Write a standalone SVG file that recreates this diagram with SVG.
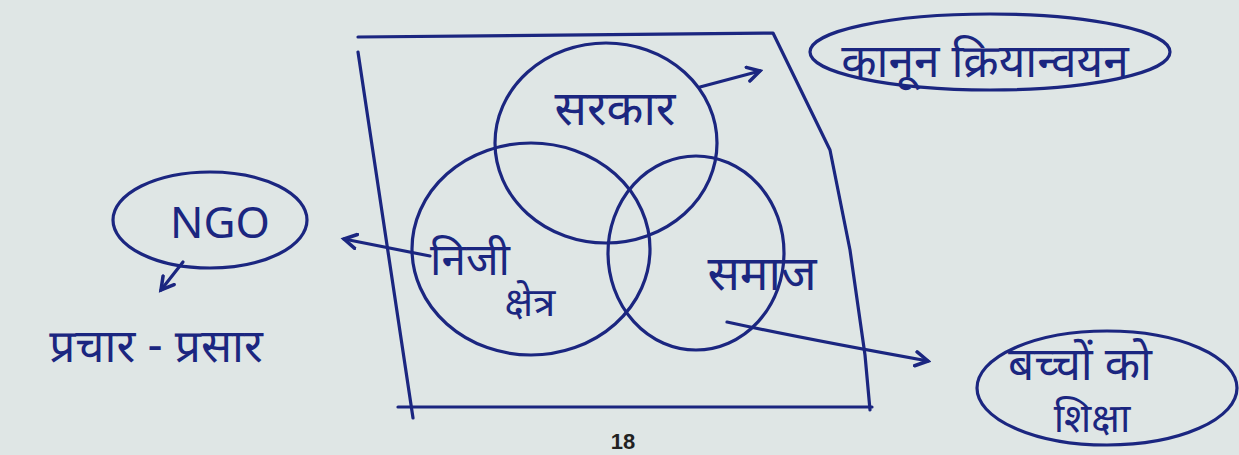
<svg xmlns="http://www.w3.org/2000/svg" width="1239" height="455" viewBox="0 0 1239 455">
<style>
.ink{fill:none;stroke:#1b2680;stroke-width:3.2;stroke-linecap:round;stroke-linejoin:round}
.t{font-family:"Noto Sans Devanagari","Noto Sans","Lohit Devanagari",sans-serif;fill:#1b2680}
</style>
<defs>
<marker id="ah" viewBox="0 0 10 10" refX="8" refY="5" markerWidth="5.5" markerHeight="5.5" orient="auto" markerUnits="strokeWidth">
<path d="M1,1 L8,5 L1,9" fill="none" stroke="#1b2680" stroke-width="2" stroke-linecap="round"/>
</marker>
</defs>
<rect width="1239" height="455" fill="#dfe6e5"/>
<g id="frame">
<path class="ink" d="M358,37 L773,33 L830,150 L850,250 L865,355 L870,410"/>
<path class="ink" d="M358,52 L413,418"/>
<path class="ink" d="M398,407 L872,407"/>
</g>
<g id="sarkar">
<ellipse class="ink" cx="606" cy="143" rx="111" ry="100"/>
<text class="t" x="615" y="125" font-size="48" text-anchor="middle">सरकार</text>
</g>
<g id="niji">
<ellipse class="ink" cx="531" cy="249" rx="119" ry="106"/>
<text class="t" x="470" y="275" font-size="44" text-anchor="middle">निजी</text>
<text class="t" x="530" y="316" font-size="40" text-anchor="middle">क्षेत्र</text>
</g>
<g id="samaj">
<ellipse class="ink" cx="696" cy="253" rx="88" ry="97"/>
<text class="t" x="762" y="290" font-size="48" text-anchor="middle">समाज</text>
</g>
<g id="kanoon">
<ellipse class="ink" cx="990" cy="52" rx="180" ry="38"/>
<text class="t" x="985" y="77" font-size="46" text-anchor="middle">कानून क्रियान्वयन</text>
</g>
<g id="ngo">
<ellipse class="ink" cx="210" cy="220" rx="97" ry="48"/>
<text class="t" x="220" y="238" font-size="44" text-anchor="middle">NGO</text>
</g>
<g id="prachar">
<text class="t" x="156" y="362" font-size="46" text-anchor="middle">प्रचार - प्रसार</text>
</g>
<g id="shiksha">
<ellipse class="ink" cx="1107" cy="388" rx="130" ry="57"/>
<text class="t" x="1080" y="380" font-size="46" text-anchor="middle">बच्चों को</text>
<text class="t" x="1092" y="432" font-size="40" text-anchor="middle">शिक्षा</text>
</g>
<g id="connectors">
<path class="ink" d="M700,87 L760,71" marker-end="url(#ah)"/>
<path class="ink" d="M430,256 L344,239" marker-end="url(#ah)"/>
<path class="ink" d="M183,262 L161,290" marker-end="url(#ah)"/>
<path class="ink" d="M727,322 Q800,338 928,361" marker-end="url(#ah)"/>
</g>
<text x="623" y="449" font-family="Liberation Sans,sans-serif" font-size="22" font-weight="bold" fill="#222" text-anchor="middle">18</text>
</svg>
